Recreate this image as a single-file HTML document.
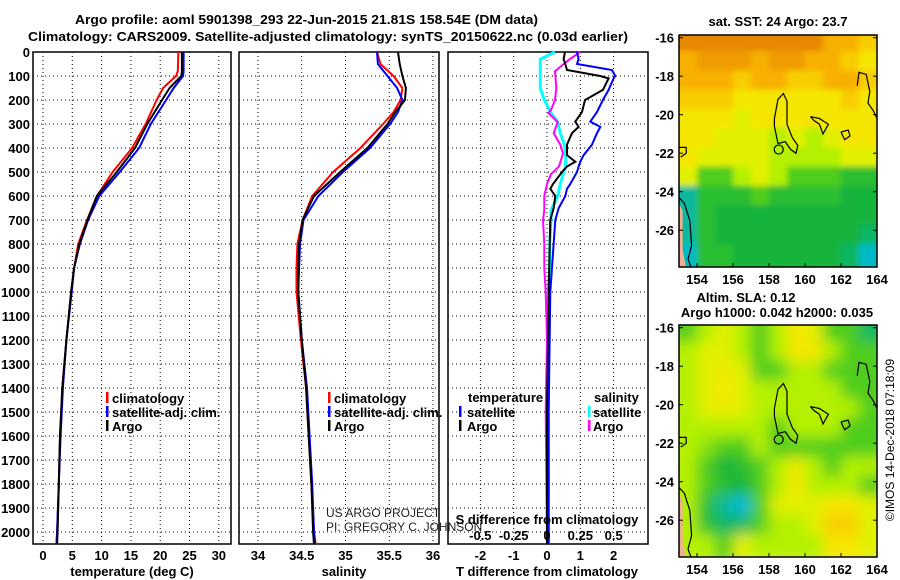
<!DOCTYPE html>
<html><head><meta charset="utf-8"><style>
html,body{margin:0;padding:0;background:#fff;}
svg{display:block;font-family:"Liberation Sans",Arial,sans-serif;}
.t{font-weight:bold;font-size:13px;fill:#000;}
</style></head><body>
<svg id="chart" width="900" height="580" viewBox="0 0 900 580" xmlns="http://www.w3.org/2000/svg">
<text x="75" y="24" class="t" font-size="14" textLength="463" lengthAdjust="spacingAndGlyphs">Argo profile: aoml 5901398_293 22-Jun-2015 21.81S 158.54E (DM data)</text>
<text x="28" y="41" class="t" font-size="14" textLength="600" lengthAdjust="spacingAndGlyphs">Climatology: CARS2009. Satellite-adjusted climatology: synTS_20150622.nc (0.03d earlier)</text>
<g id="g"></g>
</svg>
<script>
// ---------- data ----------
const depthTicks = [0,100,200,300,400,500,600,700,800,900,1000,1100,1200,1300,1400,1500,1600,1700,1800,1900,2000];
const tempTicks = [0,5,10,15,20,25,30];
const salTicks = [34,34.5,35,35.5,36];
const tdiffTicks = [-2,-1,0,1,2];
const sdiffTicks = [-0.5,-0.25,0,0.25,0.5];

const tDepth = [0,80,100,150,200,300,400,500,600,700,800,900,1000,1200,1400,1600,1800,2000,2050];
const tClim  = [23.1,23.0,22.7,20.5,19.4,17.5,15.2,11.9,9.2,7.5,6.0,5.3,4.8,4.0,3.3,2.9,2.7,2.4,2.3];
const tSat   = [24.0,24.0,23.9,22.3,21.0,18.4,16.4,13.1,9.6,7.7,6.3,5.3,4.9,4.0,3.4,3.0,2.7,2.4,2.3];
const tArgo  = [23.7,23.7,23.6,21.6,20.3,17.8,15.7,12.6,9.2,7.6,6.2,5.3,4.8,4.0,3.3,2.9,2.7,2.5,2.4];

const sDepth = [0,50,100,150,200,250,300,400,500,600,700,800,900,1000,1200,1400,1600,1800,2000,2050];
const sClim  = [35.36,35.40,35.55,35.65,35.63,35.55,35.43,35.17,34.86,34.62,34.51,34.45,34.44,34.44,34.49,34.55,34.58,34.61,34.64,34.66];
const sSat   = [35.36,35.37,35.48,35.59,35.65,35.60,35.51,35.28,34.97,34.69,34.52,34.48,34.47,34.46,34.50,34.56,34.59,34.62,34.64,34.65];
const sArgo  = [35.60,35.62,35.65,35.69,35.68,35.57,35.48,35.25,34.94,34.64,34.51,34.47,34.46,34.46,34.50,34.55,34.58,34.61,34.63,34.64];

const dTDepth = [0,30,50,75,100,110,158,200,250,290,312,338,386,430,457,477,500,550,570,600,650,700,1000,1500,2050];
const dTArgo  = [0.54,0.5,0.55,0.6,1.6,1.85,1.68,1.14,1.05,0.85,0.95,0.75,0.6,0.6,0.85,0.6,0.45,0.18,0.1,0.25,0.2,0.1,0.05,0.0,0.0];
const dTSat   = [0.9,0.95,0.9,1.95,2.05,2.0,1.85,1.68,1.5,1.3,1.6,1.5,1.35,1.1,1.0,0.95,0.9,0.7,0.6,0.55,0.35,0.25,0.1,0.05,0.05];
const dSDepth = [0,30,80,150,200,242,254,292,338,386,423,477,509,550,600,660,700,800,900,1000,1200,1500,2050];
const dSSat   = [0.06,-0.05,-0.05,-0.05,-0.02,0.02,0.03,0.08,0.1,0.13,0.14,0.14,0.12,0.1,0.08,0.03,0.03,0.02,0.02,0.01,0.01,0.01,0.01];
const dSArgo  = [0.25,0.17,0.06,0.07,0.06,0.03,0.01,0.08,0.05,0.1,0.12,0.09,0.03,0.0,-0.02,-0.02,-0.03,-0.02,-0.02,-0.01,0.0,-0.01,0.0];

const lonTicks = [154,156,158,160,162,164];
const latTicks = [-16,-18,-20,-22,-24,-26];
const sstGrid = [
 [5,5,5,5,5,5,5,5,4,4,3.5],
 [4,4.5,4.5,4.5,4,4.5,4.5,4,4,3.5,3],
 [4,4,4,3.5,4,4,3.5,3.5,4,4,3.5],
 [3.5,3.5,3.5,3,3,3,3,3,3,3.5,3],
 [3,3,3,2.5,3,3,3,3,3,3,3],
 [3,3,2.5,2.5,2.5,2,2.5,2,2.5,3,3],
 [3,2.5,2.5,2.5,2.5,2,2,2,2,2.5,2.5],
 [2.5,1.5,1.5,2,2.5,2,1.5,1.5,1.5,1.2,1.2],
 [0.5,1.2,1.2,1.2,1.5,1.2,1.2,1.2,1.2,1,1],
 [0.5,1.2,1,1,1,1,1,1,1,1,1],
 [0.5,1.2,1,1,1,1,1,1,1,1,0.8],
 [0.3,1.2,1.2,1,1,1,1,1,1,0.8,0.3]];
const slaGrid = [
 [1.5,2,2.5,2,1.5,2,3,2.5,1.5,1.5,0.8],
 [2,2.5,2.5,2,1.5,2,3,3,2,1.5,1.5],
 [2,2.5,2.8,2.5,1.5,1.5,2,2,1.5,1.5,1.5],
 [2,2.5,3,2.5,2,2,2,2,2,1.5,1.5],
 [2,2.5,2.8,2.5,2,2,2,2,2,2,1.5],
 [2,2,2,2,2,1.5,2,2,2,1.5,1.5],
 [2,1.8,1.5,1.5,2,1.5,1.5,1.5,1.5,1.5,1.5],
 [2,1.5,1,1.2,1.5,2,2.8,2,1.5,2,2],
 [2,1.5,1.2,1,1.5,2,3,2,2,2,1.5],
 [2,1.2,0.5,0.2,1.5,2.5,2.5,2.5,3,3,2.5],
 [2,1.2,0.8,0.8,1.5,2,2,2.5,3.5,3.5,2.5],
 [2,2,1.5,2.5,2,2,2,2,3,3,2.5]];

// ---------- helpers ----------
const NS="http://www.w3.org/2000/svg";
const G=document.getElementById('g');
function mk(tag,at,parent){const e=document.createElementNS(NS,tag);for(const k in at)e.setAttribute(k,at[k]);(parent||G).appendChild(e);return e;}
function txt(x,y,s,anchor,size,parent){const e=mk('text',{x:x,y:y,'text-anchor':anchor||'start',class:'t','font-size':size||13},parent);e.textContent=s;return e;}
const TOP=52,BOT=544;
const yD=d=>TOP+d*0.24;

function panel(x0,x1,name){
  const r=mk('rect',{x:x0,y:TOP,width:x1-x0,height:BOT-TOP,fill:'none',stroke:'#000','stroke-width':1.5});
  
  
  depthTicks.forEach(d=>{const l=mk('line',{x1:x0,x2:x1,y1:yD(d),y2:yD(d),stroke:'#000','stroke-dasharray':'1,3'});
    
    });
}
function vgrid(xs){xs.forEach(x=>{const l=mk('line',{x1:x,x2:x,y1:TOP,y2:BOT,stroke:'#000','stroke-dasharray':'1,3'});
  
  });}
function line(xs,ds,fx,color,w,name){
  const p=xs.map((v,i)=>fx(v).toFixed(1)+','+yD(ds[i]).toFixed(1)).join(' ');
  const e=mk('polyline',{points:p,fill:'none',stroke:color,'stroke-width':w||2});
  
  
}
function legMark(x,y,color){const e=mk('rect',{x:x,y:y-6,width:2.5,height:11,fill:color});
  
  }

depthTicks.forEach(d=>{const t=txt(30,yD(d)+5,String(d),'end');
  
  });

// ---- panel 1 temperature
const xT=v=>43+v*5.86;
panel(33,231,'temperature-panel');
vgrid(tempTicks.map(xT));
line(tClim,tDepth,xT,'#f00',2,'temp-climatology-line');
line(tSat,tDepth,xT,'#00f',2,'temp-satellite-line');
line(tArgo,tDepth,xT,'#000',2,'temp-argo-line');
tempTicks.forEach(v=>{const t=txt(xT(v),560,String(v),'middle');
  
  });
let at=txt(132,576,'temperature (deg C)','middle');


[['climatology','#f00'],['satellite-adj. clim.','#00f'],['Argo','#000']].forEach((e,i)=>{
  legMark(106,398+i*14,e[1]);const t=txt(112,403+i*14,e[0]);
  
  });

// ---- panel 2 salinity
const xS=v=>258+(v-34)*87.5;
panel(239,439,'salinity-panel');
vgrid(salTicks.map(xS));
line(sClim,sDepth,xS,'#f00',2,'sal-climatology-line');
line(sSat,sDepth,xS,'#00f',2,'sal-satellite-line');
line(sArgo,sDepth,xS,'#000',2,'sal-argo-line');
salTicks.forEach(v=>{const t=txt(xS(v),560,String(v),'middle');
  
  });
at=txt(344,576,'salinity','middle');


[['climatology','#f00'],['satellite-adj. clim.','#00f'],['Argo','#000']].forEach((e,i)=>{
  legMark(328,398+i*14,e[1]);const t=txt(334,403+i*14,e[0]);
  
  });
let c1=mk('text',{x:326,y:517,'font-size':12,fill:'#222'});c1.textContent='US ARGO PROJECT';


let c2=mk('text',{x:326,y:531,'font-size':12,fill:'#222'});c2.textContent='PI: GREGORY C. JOHNSON';



// ---- panel 3 differences
const xDT=v=>547+v*33.3;
const xDS=v=>547+v*133.3;
panel(448,648,'difference-panel');
vgrid(tdiffTicks.map(xDT));
line(dSSat,dSDepth,xDS,'#0ff',3,'sal-diff-satellite-line');
line(dSArgo,dSDepth,xDS,'#f0f',2,'sal-diff-argo-line');
line(dTArgo,dTDepth,xDT,'#000',2,'temp-diff-argo-line');
line(dTSat,dTDepth,xDT,'#00f',2,'temp-diff-satellite-line');
tdiffTicks.forEach(v=>{const t=txt(xDT(v),560,String(v),'middle');
  
  });
sdiffTicks.forEach(v=>{const t=txt(xDS(v),540,String(v),'middle');
  
  });
at=txt(547,576,'T difference from climatology','middle');


at=txt(547,524,'S difference from climatology','middle');


at=txt(468,402,'temperature');


at=txt(594,402,'salinity');


[['satellite','#00f'],['Argo','#000']].forEach((e,i)=>{legMark(459,412+i*14,e[1]);const t=txt(467,417+i*14,e[0]);
  
  });
[['satellite','#0ff'],['Argo','#f0f']].forEach((e,i)=>{legMark(588,412+i*14,e[1]);const t=txt(593,417+i*14,e[0]);
  
  });

// ---- maps
const stops=[[0,[0,190,255]],[1,[20,180,60]],[1.5,[80,205,30]],[2,[180,240,0]],[2.5,[225,240,0]],[3,[245,230,0]],[3.5,[248,205,0]],[4,[248,176,0]],[5,[232,136,0]]];
function col(v){for(let i=1;i<stops.length;i++){if(v<=stops[i][0]){const a=stops[i-1],b=stops[i],f=(v-a[0])/(b[0]-a[0]);
  return 'rgb('+a[1].map((c,k)=>Math.round(c+(b[1][k]-c)*f)).join(',')+')';}}return 'rgb(232,136,0)';}
const MX0=679,MX1=877;
const mx=lon=>MX0+(lon-153)*18;
function map(oy,grid,name,blur){
  const my=lat=>oy+37.7+(-16-lat)*19.25;
  const yb=oy+267;
  const g=mk('g',{});
  
  
  const clipId='clip'+oy;
  const cp=mk('clipPath',{id:clipId},g);mk('rect',{x:MX0,y:oy+35,width:MX1-MX0,height:232},cp);
  const f=mk('filter',{id:'bl'+oy,x:'-10%',y:'-10%',width:'120%',height:'120%'},g);mk('feGaussianBlur',{stdDeviation:blur},f);
  const cg=mk('g',{'clip-path':'url(#'+clipId+')'},g);
  const inner=mk('g',{filter:'url(#bl'+oy+')'},cg);
  grid.forEach((row,r)=>row.forEach((v,c)=>{
    const cell=mk('rect',{x:mx(153+c)-(c==0?10:0),y:my(-16-r+0.3)-(r==0?10:0),width:18.5+(c==0?10:0)+(c==10?10:0),height:19.8+(r==0?10:0)+(r==11?10:0),fill:col(v)},inner);
    
    
  }));
  const P=pts=>pts.map(p=>mx(p[0]).toFixed(1)+','+my(p[1]).toFixed(1)).join(' ');
  const coasts=[
   [[158.3,-20.2],[158.5,-19.2],[158.8,-18.9],[159.0,-19.3],[159.0,-20.5],[159.3,-21.2],[159.6,-21.6],[159.5,-22.0],[159.2,-21.8],[158.9,-21.4],[158.5,-21.5],[158.3,-20.6],[158.3,-20.2]],
   [[160.3,-20.1],[160.8,-20.2],[161.3,-20.5],[161.0,-21.0],[160.8,-20.5],[160.5,-20.3],[160.3,-20.1]],
   [[162.9,-18.5],[163.0,-17.8],[163.4,-17.9],[163.6,-18.8],[163.5,-19.4],[163.8,-19.8],[164,-20.2]],
   [[153,-21.7],[153.4,-21.7],[153.4,-22.0],[153.1,-22.2]],
   [[153,-24.3],[153.3,-24.6],[153.6,-25.5],[153.7,-26.8],[153.5,-27.5],[153.7,-28]],
   [[162.0,-20.9],[162.4,-20.8],[162.5,-21.1],[162.2,-21.3],[162.0,-20.9]]];
  coasts.forEach(c=>{const e=mk('polyline',{points:P(c),fill:'none',stroke:'#000','stroke-width':1.2},cg);
    
    });
  const land=mk('polygon',{points:P([[153,-24.6],[153.2,-25],[153.2,-27],[153.4,-28],[153,-28]]),fill:'#f0b090'},cg);
  
  
  const cir=mk('circle',{cx:mx(158.54),cy:my(-21.81),r:4.5,fill:'none',stroke:'#000','stroke-width':1.2},g);
  
  
  const fr=mk('rect',{x:MX0,y:oy+35,width:MX1-MX0,height:232,fill:'none',stroke:'#000','stroke-width':1.5},g);
  
  
  latTicks.forEach(l=>{const t=txt(674,my(l)+5,String(l),'end',13,g);
    
    
    mk('line',{x1:MX0,x2:MX0+4,y1:my(l),y2:my(l),stroke:'#000'},g);mk('line',{x1:MX1-4,x2:MX1,y1:my(l),y2:my(l),stroke:'#000'},g);});
  lonTicks.forEach(l=>{const t=txt(mx(l),yb+17,String(l),'middle',13,g);
    
    
    mk('line',{x1:mx(l),x2:mx(l),y1:yb-4,y2:yb,stroke:'#000'},g);});
}
map(0,sstGrid,'sst-map',3);
map(290,slaGrid,'sla-map',7);
at=txt(778,26,'sat. SST: 24 Argo: 23.7','middle',13);


at=txt(746,302,'Altim. SLA: 0.12','middle',13);


at=txt(777,317,'Argo h1000: 0.042 h2000: 0.035','middle',13);


const cr=mk('text',{x:0,y:0,'font-size':12,fill:'#000',transform:'translate(894,440) rotate(-90)','text-anchor':'middle'});
cr.textContent='©IMOS 14-Dec-2018 07:18:09';


</script>
</body></html>
